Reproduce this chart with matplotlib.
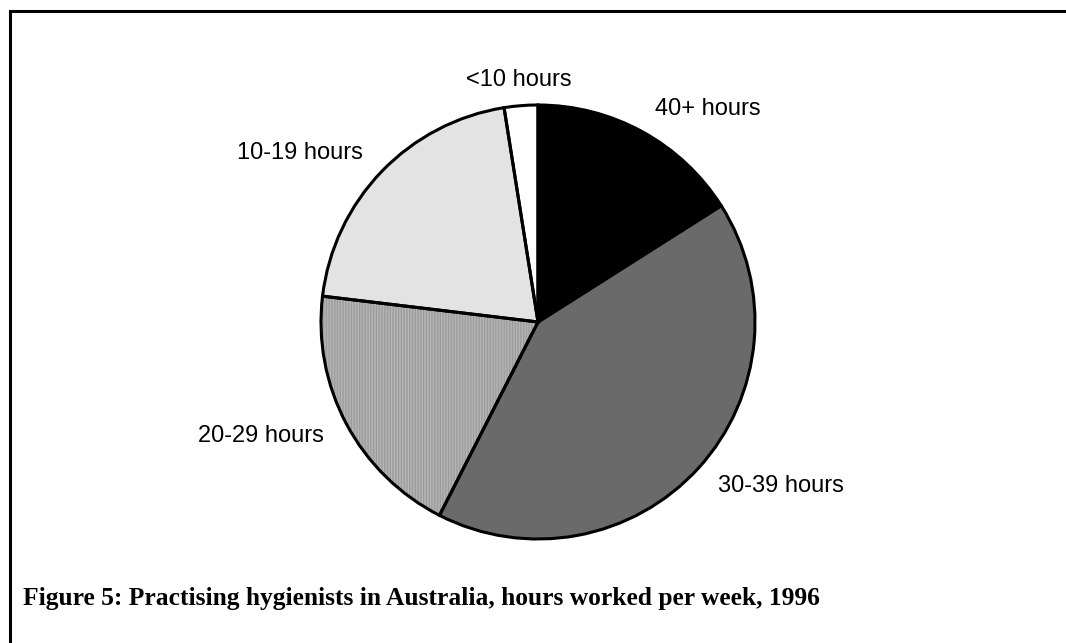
import matplotlib.pyplot as plt
from matplotlib.lines import Line2D

# hours worked per week, share of practising hygienists (%), clockwise from 12 o'clock
labels = ['40+ hours', '30-39 hours', '20-29 hours', '10-19 hours', '<10 hours']
shares = [16.0, 41.5, 19.4, 20.6, 2.5]
colors = ['#000000', '#6a6a6a', '#b6b6b6', '#e3e3e3', '#ffffff']
hatches = [None, None, '||||||', None, None]

title = 'Figure 5: Practising hygienists in Australia, hours worked per week, 1996'

W, H = 1066, 643
fig = plt.figure(figsize=(W / 100, H / 100), dpi=100)

# pie centre ~ (538, 322) px, radius ~ 217 px
cx, cy, r = 538, 322, 217
ax = fig.add_axes([(cx - r) / W, 1 - (cy + r) / H, 2 * r / W, 2 * r / H])

# fill first (with hatch for the striped slice), then the black outlines on top
wedges, _ = ax.pie(shares, colors=colors, startangle=90, counterclock=False,
                   wedgeprops=dict(linewidth=0, edgecolor='#9c9c9c'))
for w, h in zip(wedges, hatches):
    if h:
        w.set_hatch(h)

wedges2, texts = ax.pie(shares, labels=labels, startangle=90, counterclock=False,
                        labeldistance=1.12,
                        wedgeprops=dict(facecolor='none', linewidth=2.2, edgecolor='black'),
                        textprops=dict(family='Liberation Sans', fontsize=17))
texts[-1].set_horizontalalignment('center')

ax.set_xlim(-1, 1)
ax.set_ylim(-1, 1)
ax.set_aspect('equal')
ax.axis('off')

fig.text(23 / W, 1 - 605 / H, title, family='Liberation Serif', fontweight='bold',
         fontsize=18.4, ha='left', va='baseline')

# frame: only left and top edges are visible in the source
fig.add_artist(Line2D([9.5 / W, 9.5 / W], [0, 1 - 11 / H], color='black', linewidth=2.2))
fig.add_artist(Line2D([9.5 / W, 1], [1 - 11 / H, 1 - 11 / H], color='black', linewidth=2.2))

fig.savefig('out.png', dpi=100, facecolor='white')
